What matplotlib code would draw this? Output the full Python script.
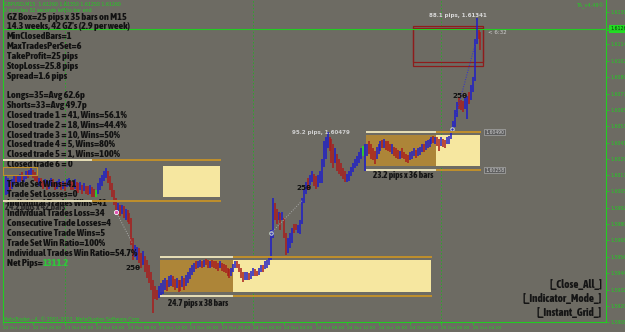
import matplotlib
matplotlib.use("Agg")
import matplotlib.pyplot as plt
from matplotlib.patches import Rectangle
from matplotlib import font_manager as fm

# ---------------- data ----------------
highs = [
    1.6016, 1.6015, 1.6012, 1.6014, 1.6017, 1.6017, 1.6016, 1.6018, 1.6019, 1.6017,
    1.6020, 1.6020, 1.6021, 1.6023, 1.6021, 1.6019, 1.6017, 1.6015, 1.6015, 1.6013,
    1.6014, 1.6012, 1.6013, 1.6015, 1.6014, 1.6012, 1.6013, 1.6014, 1.6012, 1.6013,
    1.6012, 1.6014, 1.6015, 1.6013, 1.6012, 1.6014, 1.6012, 1.6011, 1.6012, 1.6010,
    1.6011, 1.6009, 1.6009, 1.6010, 1.6008, 1.6007, 1.6006, 1.6011, 1.6015, 1.6017,
    1.6020, 1.6022, 1.6020, 1.6016, 1.6011, 1.6006, 1.6000, 1.5996, 1.5995, 1.5995,
    1.5994, 1.5992, 1.5991, 1.5989, 1.5985, 1.5970, 1.5965, 1.5964, 1.5963, 1.5959,
    1.5961, 1.5957, 1.5954, 1.5950, 1.5945, 1.5939, 1.5935, 1.5932, 1.5935, 1.5937,
    1.5939, 1.5941, 1.5939, 1.5942, 1.5943, 1.5942, 1.5940, 1.5941, 1.5939, 1.5939,
    1.5942, 1.5941, 1.5943, 1.5945, 1.5948, 1.5950, 1.5952, 1.5953, 1.5953, 1.5954,
    1.5953, 1.5954, 1.5955, 1.5954, 1.5953, 1.5954, 1.5953, 1.5953, 1.5952, 1.5953,
    1.5952, 1.5951, 1.5950, 1.5948, 1.5947, 1.5948, 1.5951, 1.5953, 1.5953, 1.5951,
    1.5948, 1.5945, 1.5945, 1.5945, 1.5944, 1.5946, 1.5948, 1.5947, 1.5946, 1.5948,
    1.5950, 1.5950, 1.5953, 1.5954, 1.5957, 1.5976, 1.6000, 1.5996, 1.5992, 1.5990,
    1.5989, 1.5990, 1.5985, 1.5974, 1.5970, 1.5974, 1.5978, 1.5981, 1.5981, 1.5980,
    1.5984, 1.6000, 1.6007, 1.6012, 1.6015, 1.6017, 1.6020, 1.6018, 1.6016, 1.6017,
    1.6020, 1.6029, 1.6042, 1.6045, 1.6049, 1.6045, 1.6044, 1.6040, 1.6037, 1.6033,
    1.6029, 1.6026, 1.6022, 1.6020, 1.6018, 1.6020, 1.6023, 1.6026, 1.6029, 1.6031,
    1.6034, 1.6037, 1.6039, 1.6040, 1.6040, 1.6042, 1.6040, 1.6037, 1.6035, 1.6038,
    1.6040, 1.6042, 1.6043, 1.6044, 1.6042, 1.6042, 1.6040, 1.6040, 1.6038, 1.6037,
    1.6036, 1.6035, 1.6037, 1.6034, 1.6033, 1.6032, 1.6034, 1.6035, 1.6037, 1.6036,
    1.6037, 1.6038, 1.6040, 1.6040, 1.6042, 1.6043, 1.6044, 1.6045, 1.6046, 1.6045,
    1.6045, 1.6044, 1.6045, 1.6044, 1.6043, 1.6045, 1.6046, 1.6051, 1.6057, 1.6065,
    1.6071, 1.6075, 1.6073, 1.6072, 1.6074, 1.6076, 1.6079, 1.6084, 1.6090, 1.6118,
    1.6134, 1.6125, 1.6123,
]
lows = [
    1.6002, 1.6003, 1.6005, 1.6007, 1.6010, 1.6012, 1.6010, 1.6012, 1.6013, 1.6012,
    1.6014, 1.6015, 1.6016, 1.6017, 1.6015, 1.6013, 1.6011, 1.6009, 1.6009, 1.6007,
    1.6008, 1.6006, 1.6007, 1.6009, 1.6008, 1.6006, 1.6007, 1.6008, 1.6006, 1.6007,
    1.6005, 1.6008, 1.6009, 1.6006, 1.6006, 1.6007, 1.6005, 1.6004, 1.6006, 1.6003,
    1.6005, 1.6003, 1.6002, 1.6003, 1.6001, 1.6001, 1.6001, 1.6003, 1.6006, 1.6009,
    1.6013, 1.6015, 1.6011, 1.6006, 1.6001, 1.5995, 1.5990, 1.5989, 1.5987, 1.5988,
    1.5985, 1.5984, 1.5982, 1.5981, 1.5965, 1.5954, 1.5956, 1.5954, 1.5952, 1.5948,
    1.5950, 1.5945, 1.5941, 1.5937, 1.5932, 1.5915, 1.5925, 1.5924, 1.5926, 1.5928,
    1.5929, 1.5932, 1.5931, 1.5934, 1.5935, 1.5934, 1.5932, 1.5933, 1.5930, 1.5931,
    1.5934, 1.5932, 1.5935, 1.5937, 1.5940, 1.5943, 1.5945, 1.5947, 1.5948, 1.5949,
    1.5948, 1.5949, 1.5950, 1.5948, 1.5948, 1.5949, 1.5948, 1.5947, 1.5946, 1.5948,
    1.5946, 1.5945, 1.5944, 1.5942, 1.5941, 1.5942, 1.5945, 1.5948, 1.5948, 1.5945,
    1.5941, 1.5938, 1.5939, 1.5939, 1.5939, 1.5940, 1.5942, 1.5942, 1.5942, 1.5943,
    1.5945, 1.5945, 1.5947, 1.5948, 1.5950, 1.5954, 1.5970, 1.5984, 1.5981, 1.5984,
    1.5976, 1.5984, 1.5970, 1.5958, 1.5959, 1.5963, 1.5967, 1.5974, 1.5976, 1.5974,
    1.5973, 1.5981, 1.5996, 1.6003, 1.6006, 1.6010, 1.6012, 1.6009, 1.6007, 1.6008,
    1.6011, 1.6011, 1.6023, 1.6029, 1.6037, 1.6035, 1.6026, 1.6022, 1.6026, 1.6020,
    1.6018, 1.6016, 1.6014, 1.6012, 1.6012, 1.6013, 1.6016, 1.6019, 1.6022, 1.6024,
    1.6026, 1.6029, 1.6031, 1.6020, 1.6031, 1.6033, 1.6029, 1.6028, 1.6025, 1.6029,
    1.6033, 1.6035, 1.6037, 1.6037, 1.6036, 1.6035, 1.6034, 1.6033, 1.6031, 1.6030,
    1.6029, 1.6029, 1.6030, 1.6029, 1.6027, 1.6026, 1.6028, 1.6029, 1.6031, 1.6030,
    1.6031, 1.6032, 1.6034, 1.6034, 1.6036, 1.6037, 1.6038, 1.6040, 1.6041, 1.6040,
    1.6039, 1.6035, 1.6039, 1.6038, 1.6037, 1.6040, 1.6040, 1.6044, 1.6048, 1.6053,
    1.6060, 1.6066, 1.6065, 1.6064, 1.6066, 1.6059, 1.6070, 1.6073, 1.6079, 1.6087,
    1.6114, 1.6118, 1.6110,
]
bar_dirs = ("bbrbbrbbrb" "brbbrrrbrr" "brbbrrbbrb" "rbbrrbrrbr" "brrbrrgbbb"
            "bbrrrrrbrb" "rbrrrrbbrr" "brrrrrrrbb" "bbrbbrrbrr" "brbbbbbrbb"
            "rbrrbrrrrb" "rrrrrbbbrr" "rrbbrbbrrb" "brbbbbbrrb" "rbrrbbbrrb"
            "bbbbrbbrrb" "bbbbbrrrbr" "rrrrbbbbbb" "bbgbbrrrrb" "bbrbrrrbrr"
            "rbrrrrbbbr" "bbbrbbbbrb" "rrbrrbbbbb" "brrrbbrbbb" "brr")

price_ticks = [1.61380, 1.61260, 1.61140, 1.61020, 1.60895, 1.60775, 1.60655,
               1.60535, 1.60410, 1.60290, 1.60170, 1.60050, 1.59925, 1.59805,
               1.59685, 1.59565, 1.59440, 1.59320, 1.59200, 1.59080]
price_tick_labels = ["%.5f" % p for p in price_ticks]
current_price = 1.61257
current_label = "1.61260"

time_tick_bars = [-1.5, 14, 30, 46, 62, 78, 94, 110, 126, 142, 158, 174, 190, 206, 222, 238]
time_tick_labels = ["22 Oct 2012", "22 Oct 20:00", "23 Oct 00:00", "23 Oct 04:00",
                    "23 Oct 08:00", "23 Oct 12:00", "23 Oct 16:00", "23 Oct 20:00",
                    "24 Oct 00:00", "24 Oct 04:00", "24 Oct 08:00", "24 Oct 12:00",
                    "24 Oct 16:00", "24 Oct 20:00", "25 Oct 00:00", "25 Oct 04:00"]
day_separators = [30, 126, 222]

# GZ boxes
box_start = [-1.5, 78.6, 183.6]
box_split = [43.9, 115.8, 219.3]
box_fill_from = [80.1, 115.8, 219.3]
box_end = [109.2, 216.8, 241.7]
box_line_top = [1.6028, 1.5956, 1.6049]
box_line_bot = [1.5998, 1.5927, 1.6021]
box_fill_top = [1.6024, 1.5954, 1.6047]
box_fill_bot = [1.6001, 1.5930, 1.6024]
box_has_dark = [False, True, True]

# current trade box (red)
red_box_start, red_box_end = 207.6, 243.3
red_box_outer = (1.6098, 1.6128)
red_box_inner = (1.6101, 1.6126)

# trades (dotted connection lines)
trade_open_bar = [56.1, 135.2, 227.5]
trade_open_px = [1.5990, 1.5974, 1.6051]
trade_close_bar = [64.3, 151.0, 240.2]
trade_close_px = [1.5967, 1.5998, 1.6119]
trade_line_col = ["#a8a8a8", "#a8a8a8", "#3030d0"]

stats_lines = [
    "GZ Box=25 pips x 35 bars on M15",
    "14.3 weeks, 42 GZ's (2.9 per week)",
    "MinClosedBars=1",
    "MaxTradesPerSet=6",
    "TakeProfit=25 pips",
    "StopLoss=25.8 pips",
    "Spread=1.6 pips",
    "",
    "Longs=35=Avg 62.6p",
    "Shorts=33=Avg 49.7p",
    "Closed trade 1 = 41, Wins=56.1%",
    "Closed trade 2 = 18, Wins=44.4%",
    "Closed trade 3 = 10, Wins=50%",
    "Closed trade 4 = 5, Wins=80%",
    "Closed trade 5 = 1, Wins=100%",
    "Closed trade 6 = 0",
    "",
    "Trade Set Wins=41",
    "Trade Set Losses=0",
    "Individual Trades Wins=41",
    "Individual Trades Loss=34",
    "Consecutive Trade Losses=4",
    "Consecutive Trade Wins=5",
    "Trade Set Win Ratio=100%",
    "Individual Trades Win Ratio=54.7%",
]
net_pips = "1311.2"

# ---------------- style ----------------
W, H = 625, 332
BG = "#6d6b63"
BLUE = "#1e1ec8"
RED = "#a81c1c"
UI_GREEN = "#22cc22"
GOLD = "#c0902c"
PALE = "#e8e0b8"
LIGHT_Y = "#f6e7a0"
DARK_G = "#ad8538"


def pick_narrow_bold():
    fl = fm.fontManager.ttflist
    for f in fl:
        if f.name == "Liberation Sans Narrow" and f.weight in (700, "bold") and f.style == "normal":
            return f
    order = {"ultra-condensed": 0, "extra-condensed": 1, "condensed": 2, "semi-condensed": 3}
    cond = [f for f in fl if str(f.stretch) in order and f.weight in (600, 700, 800, "bold",
                                                                      "semibold", "heavy")
            and f.style == "normal"]
    if cond:
        cond.sort(key=lambda f: (order[str(f.stretch)], -int(f.weight) if isinstance(f.weight, int) else 0, f.name))
        return cond[0]
    return None


_nf = pick_narrow_bold()
if _nf is not None:
    NARROW = dict(family=[_nf.name, "DejaVu Sans"], stretch=_nf.stretch, weight=_nf.weight)
else:
    NARROW = dict(family=["Roboto", "DejaVu Sans"], weight="bold")

fig = plt.figure(figsize=(W / 100, H / 100), dpi=100, facecolor=BG)
ax = fig.add_axes([3 / W, 10 / H, 603 / W, 322 / H], facecolor=BG)
ax.set_xlim(-1.5, 306)
ax.set_ylim(1.5908, 1.6147)
renderer = fig.canvas.get_renderer()


def fit_size(sample, target_px):
    t = fig.text(0, 0, sample, fontsize=10, **NARROW)
    w = t.get_window_extent(renderer).width
    t.remove()
    return 10 * target_px / w


STATS_SIZE = fit_size("Closed trade 1 = 41, Wins=56.1%", 118)
BTN_SIZE = fit_size("[_Indicator_Mode_]", 78)
LBL_SIZE = fit_size("24.7 pips x 38 bars", 60)

# bars
cmap = {"b": BLUE, "r": RED, "g": "#22e022"}
xs = list(range(len(highs)))
ax.vlines(xs, lows, highs, colors=[cmap[c] for c in bar_dirs], linewidth=1.1, zorder=4)

# day separators
for d in day_separators:
    ax.axvline(d, color="#2aa82a", lw=0.7, ls=(0, (1.5, 2)), zorder=1)

# boxes
for i in range(len(box_start)):
    if box_has_dark[i]:
        ax.add_patch(Rectangle((box_start[i], box_fill_bot[i]), box_split[i] - box_start[i],
                               box_fill_top[i] - box_fill_bot[i], facecolor=DARK_G,
                               edgecolor="none", zorder=2))
    ax.add_patch(Rectangle((box_fill_from[i], box_fill_bot[i]), box_end[i] - box_fill_from[i],
                           box_fill_top[i] - box_fill_bot[i], facecolor=LIGHT_Y,
                           edgecolor="none", zorder=2))
    for yv in (box_line_top[i], box_line_bot[i]):
        ax.plot([box_start[i], box_split[i]], [yv, yv], color=PALE, lw=1.4, zorder=7,
                solid_capstyle="butt")
        ax.plot([box_split[i], box_end[i] + 0.5], [yv, yv], color=GOLD, lw=1.4, zorder=7,
                solid_capstyle="butt")
# small outlined box at left
ax.add_patch(Rectangle((-1.5, 1.6017), 17.3, 0.0006, facecolor="none", edgecolor=GOLD,
                       lw=0.8, zorder=7))

# red trade box
for lo, hi in (red_box_outer, red_box_inner):
    ax.add_patch(Rectangle((red_box_start, lo), red_box_end - red_box_start, hi - lo,
                           facecolor="none", edgecolor="#8e1c1c", lw=0.9, zorder=3))

# trade lines and markers
for ob, op, cb, cp, c in zip(trade_open_bar, trade_open_px, trade_close_bar, trade_close_px,
                             trade_line_col):
    ax.plot([ob, cb], [op, cp], color=c, lw=0.7, ls=(0, (1, 1.5)), zorder=5)
    ax.plot([ob], [op], marker="o", ms=2.5, mfc="none", mec="#d0e0d0", mew=0.7, zorder=6)
ax.plot([trade_open_bar[0]], [trade_open_px[0]], marker="o", ms=3, mfc="#e050b0",
        mec="#ffffff", mew=0.5, zorder=6)

# current price line
ax.axhline(current_price, color=UI_GREEN, lw=0.8, zorder=3)
fig.add_artist(plt.Line2D([606 / W, 1], [1 - 30 / H] * 2, color=UI_GREEN, lw=0.8))

# axes styling
ax.spines["top"].set_visible(False)
for s in ("left", "right", "bottom"):
    ax.spines[s].set_color(UI_GREEN)
    ax.spines[s].set_linewidth(0.8)
ax.yaxis.tick_right()
ax.set_yticks(price_ticks)
ax.set_yticklabels([current_label if lab == current_label else lab for lab in price_tick_labels])
ax.tick_params(axis="y", colors=UI_GREEN, labelsize=3.3, length=2, width=0.5, pad=1.2)
for lab in ax.get_yticklabels():
    if lab.get_text() == current_label:
        lab.set_color("#0c300c")
        lab.set_bbox(dict(facecolor="#22dd22", edgecolor="none", pad=1.0))
ax.set_xticks(time_tick_bars)
ax.set_xticklabels(time_tick_labels)
ax.tick_params(axis="x", colors=UI_GREEN, labelsize=3.2, length=2, width=0.5, pad=0.8)
for lbl in ax.get_xticklabels():
    lbl.set_ha("left")


def ftxt(x, y, s, **kw):
    kw.setdefault("va", "center")
    return ax.text(x / W, 1 - y / H, s, transform=fig.transFigure, clip_on=False, **kw)


# header
ftxt(4, 4, "GBPUSD,M15  1.61260 1.61350 1.61250 1.61260", fontsize=3.4, color=UI_GREEN, zorder=8)
ftxt(4, 10, "0 minutes 32 seconds left to bar end", fontsize=3.4, color=UI_GREEN, zorder=8)
ftxt(604, 6, "TA_v4.49©", fontsize=3.6, color=UI_GREEN, ha="right", zorder=8)
ftxt(3, 319, "MetaTrader - 4, © 2001-2012, MetaQuotes Software Corp.", fontsize=3.4,
     color=UI_GREEN, zorder=8)

# older box label, partly hidden under the stats block
ftxt(5, 207, "24.2 pips x 42 bars", fontsize=LBL_SIZE, color="#2a2a2a", zorder=5, **NARROW)

# stats block
for k, line in enumerate(stats_lines):
    if line:
        ftxt(7, 17 + k * 9.84, line, fontsize=STATS_SIZE, color="#121212", zorder=6, **NARROW)
t_net = ftxt(7, 17 + 25 * 9.84, "Net Pips=", fontsize=STATS_SIZE, color="#121212", zorder=6,
             **NARROW)
ax.annotate(net_pips, xy=(1, 0.5), xycoords=t_net, va="center", ha="left",
            fontsize=STATS_SIZE, color="#2ec83a", zorder=6, annotation_clip=False, **NARROW)

# box / trade labels
ftxt(168, 303, "24.7 pips x 38 bars", fontsize=LBL_SIZE, color="#151515", zorder=8, **NARROW)
ftxt(373, 176, "23.2 pips x 36 bars", fontsize=LBL_SIZE, color="#151515", zorder=8, **NARROW)
ftxt(292, 132, "95.2 pips, 1.60479", fontsize=4.0, fontweight="bold", color="#cfcfcf", zorder=8)
ftxt(429, 16, "88.1 pips, 1.61341", fontsize=4.0, fontweight="bold", color="#d8d8d8", zorder=8)
ftxt(488, 33, "< 6:32", fontsize=4.0, color="#d0d0d0", zorder=8)
for (x, y) in ((125, 268), (296, 188), (452, 96)):
    ftxt(x, y, "25θ", fontsize=5.2, fontweight="bold", family=["DejaVu Sans"],
         color="#101010", zorder=8)
for (y, s) in ((132, "1.60490"), (170, "1.60258")):
    ftxt(485, y, s, fontsize=3.3, color="#d0d0d0", zorder=8,
         bbox=dict(facecolor="#5e5e5e", edgecolor="#bbbbbb", lw=0.4, pad=0.6))

# buttons
for (y, s) in ((284, "[_Close_All_]"), (298, "[_Indicator_Mode_]"), (313, "[_Instant_Grid_]")):
    ftxt(602, y, s, fontsize=BTN_SIZE, color="#151515", ha="right", zorder=8, **NARROW)

fig.savefig("out.png", dpi=100, facecolor=BG)
